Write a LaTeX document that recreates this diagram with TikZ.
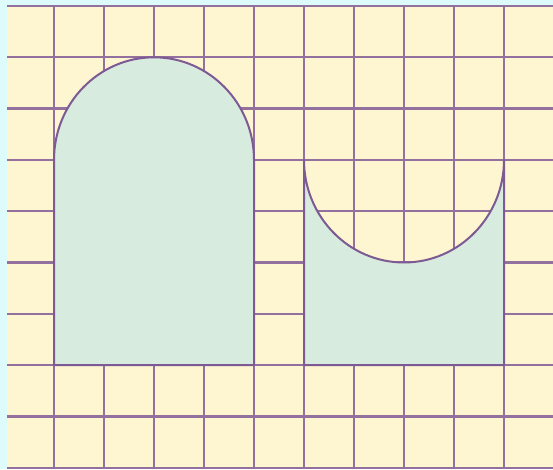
\documentclass[tikz,border=0pt]{standalone}
\definecolor{cyanbg}{HTML}{DDFBFA}
\definecolor{paper}{HTML}{FEF6D1}
\definecolor{gridc}{HTML}{94709F}
\definecolor{edgec}{HTML}{7D5A93}
\definecolor{mint}{HTML}{D7EBDF}
\begin{document}
\begin{tikzpicture}[x=1pt,y=1pt,
  gridline/.style={draw=gridc,line width=2.4pt},
  region/.style={fill=mint,draw=edgec,line width=2pt,line join=round}]
\useasboundingbox (0,0) rectangle (553,469);
\fill[cyanbg] (0,0) rectangle (553,469);
\fill[paper] (7,0) rectangle (553,464);
\foreach \x in {54,104,...,504} \draw[gridline] (\x,0) -- (\x,463);
\foreach \i in {0,...,9} \draw[gridline] (7,{463-51.3*\i}) -- (553,{463-51.3*\i});
\draw[region] (54,103.9) -- (54,309.1) arc[start angle=180,end angle=0,x radius=100pt,y radius=102.6pt] -- (254,103.9) -- cycle;
\draw[region] (304,103.9) -- (304,309.1) arc[start angle=180,end angle=360,x radius=100pt,y radius=102.6pt] -- (504,103.9) -- cycle;
\end{tikzpicture}
\end{document}
